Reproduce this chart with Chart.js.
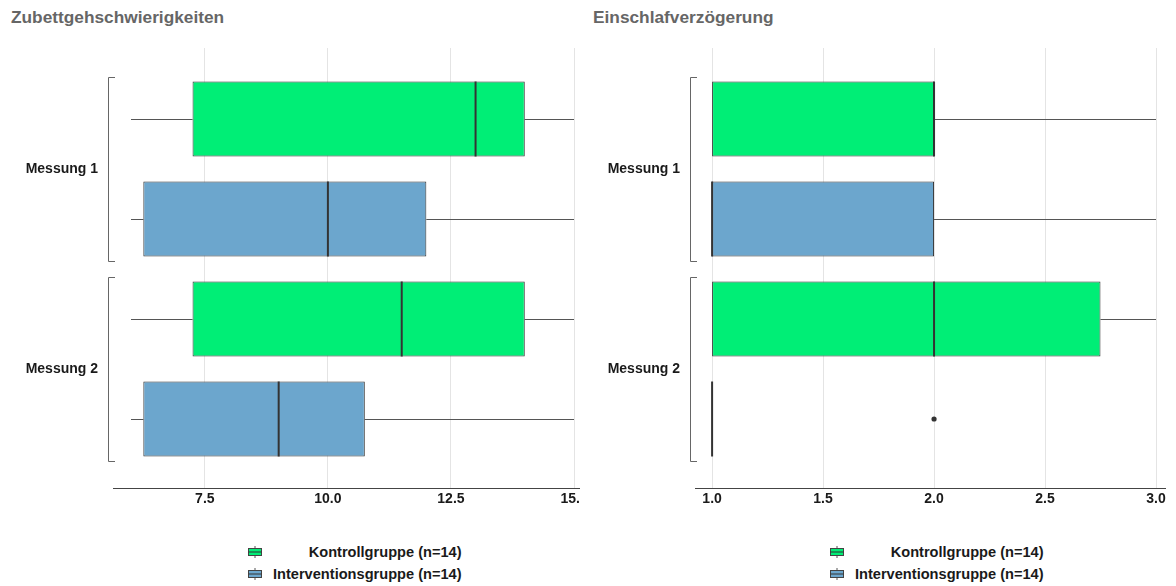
<!DOCTYPE html>
<html>
<head>
<meta charset="utf-8">
<script src="https://cdn.jsdelivr.net/npm/chart.js@4.4.1/dist/chart.umd.min.js"></script>
<style>
html,body{margin:0;padding:0;background:#fff;}
body{width:1176px;height:586px;position:relative;overflow:hidden;font-family:"Liberation Sans",Arial,Helvetica,sans-serif;}
.title{position:absolute;top:7px;font-weight:bold;font-size:17.3px;line-height:20px;color:#666;white-space:nowrap;}
canvas{position:absolute;top:0;}
.legend{position:absolute;top:544px;display:grid;grid-template-columns:14px auto;column-gap:11px;row-gap:6px;align-items:center;font-weight:bold;font-size:14.6px;line-height:16px;color:#1a1a1a;}
.legend span{text-align:right;white-space:nowrap;}
.legend svg{display:block;}
</style>
</head>
<body>
<div class="title" style="left:11px">Zubettgehschwierigkeiten</div>
<div class="title" style="left:593px">Einschlafverzögerung</div>
<canvas id="c1" width="580" height="525" style="left:0"></canvas>
<canvas id="c2" width="586" height="525" style="left:590px"></canvas>
<div class="legend" id="lg1" style="left:248px"></div>
<div class="legend" id="lg2" style="left:830px"></div>
<script>
// ---- data ----
const categories = ['Messung 1', 'Messung 2'];
const groupLabels = ['Kontrollgruppe (n=14)', 'Interventionsgruppe (n=14)'];
const groupColors = ['#00EE76', '#6CA6CD'];

// five-number summaries per Messung: [min, q1, median, q3, max]
const zubKontroll = [[6, 7.25, 13, 14, 15], [6, 7.25, 11.5, 14, 15]];
const zubIntervention = [[6, 6.25, 10, 12, 15], [6, 6.25, 9, 10.75, 15]];
const zubKontrollOutliers = [[], []];
const zubInterventionOutliers = [[], []];
const zubTicks = [7.5, 10, 12.5, 15];
const zubTickLabels = ['7.5', '10.0', '12.5', '15.0'];

const einKontroll = [[1, 1, 2, 2, 3], [1, 1, 2, 2.75, 3]];
const einIntervention = [[1, 1, 1, 2, 3], [1, 1, 1, 1, 1]];
const einKontrollOutliers = [[], []];
const einInterventionOutliers = [[], [2]];
const einTicks = [1, 1.5, 2, 2.5, 3];
const einTickLabels = ['1.0', '1.5', '2.0', '2.5', '3.0'];

// ---- box plot drawing helpers (positions through the chart scales) ----
const boxPlugin = {
  id: 'boxparts',
  beforeDatasetsDraw(chart) {
    const {ctx, chartArea: a, scales: {x}} = chart;
    ctx.save();
    ctx.beginPath(); ctx.rect(a.left, a.top, a.width, a.height); ctx.clip();
    chart.data.datasets.forEach((ds, di) => {
      chart.getDatasetMeta(di).data.forEach((bar, i) => {
        const s = ds.stats[i];
        const y = Math.round(bar.y) + 0.5;
        ctx.strokeStyle = '#555'; ctx.lineWidth = 1;
        ctx.beginPath();
        ctx.moveTo(x.getPixelForValue(s[0]), y); ctx.lineTo(x.getPixelForValue(s[1]), y);
        ctx.moveTo(x.getPixelForValue(s[3]), y); ctx.lineTo(x.getPixelForValue(s[4]), y);
        ctx.stroke();
      });
    });
    ctx.restore();
  },
  afterDatasetsDraw(chart) {
    const {ctx, chartArea: a, scales: {x}} = chart;
    ctx.save();
    ctx.beginPath(); ctx.rect(a.left - 2, a.top, a.width + 4, a.height); ctx.clip();
    chart.data.datasets.forEach((ds, di) => {
      chart.getDatasetMeta(di).data.forEach((bar, i) => {
        const s = ds.stats[i];
        const h = bar.height;
        const mx = x.getPixelForValue(s[2]);
        ctx.strokeStyle = '#333'; ctx.lineWidth = 2;
        ctx.beginPath();
        ctx.moveTo(mx, bar.y - h / 2); ctx.lineTo(mx, bar.y + h / 2);
        ctx.stroke();
        (ds.outliers[i] || []).forEach(v => {
          ctx.fillStyle = '#333';
          ctx.beginPath();
          ctx.arc(x.getPixelForValue(v), bar.y, 2.6, 0, Math.PI * 2);
          ctx.fill();
        });
      });
    });
    ctx.restore();
  },
  afterDraw(chart) {
    const {ctx, chartArea: a, scales: {y}} = chart;
    ctx.save();
    // brackets per category
    ctx.strokeStyle = '#666'; ctx.lineWidth = 1;
    categories.forEach((c, i) => {
      const t = Math.round(y.getPixelForValue(i - 0.46)) + 0.5;
      const b = Math.round(y.getPixelForValue(i + 0.46)) + 0.5;
      const bx = a.left - 5 + 0.5;
      ctx.beginPath();
      ctx.moveTo(a.left + 2, t); ctx.lineTo(bx, t); ctx.lineTo(bx, b); ctx.lineTo(a.left + 2, b);
      ctx.stroke();
    });
    // x axis line
    ctx.strokeStyle = '#444'; ctx.lineWidth = 1;
    ctx.beginPath();
    ctx.moveTo(a.left, Math.round(a.bottom) + 0.5);
    ctx.lineTo(a.right + 10, Math.round(a.bottom) + 0.5);
    ctx.stroke();
    ctx.restore();
  }
};

const FONT = "'Liberation Sans', Arial, Helvetica, sans-serif";

function makeChart(id, kontroll, intervention, kOut, iOut, xMin, xMax, ticks, tickLabels, yWidth, padRight) {
  const series = [[kontroll, kOut], [intervention, iOut]];
  return new Chart(document.getElementById(id), {
    type: 'bar',
    data: {
      datasets: series.map(([stats, outs], gi) => ({
        label: groupLabels[gi],
        data: stats.map((s, i) => ({y: i, x: [s[1], s[3]]})),
        stats: stats,
        outliers: outs,
        backgroundColor: groupColors[gi],
        borderColor: '#333',
        borderWidth: 1,
        borderSkipped: false,
        categoryPercentage: 1.0,
        barPercentage: 0.75
      }))
    },
    options: {
      indexAxis: 'y',
      responsive: false,
      animation: false,
      devicePixelRatio: 1,
      layout: {padding: {top: 48, right: padRight, left: 0, bottom: 0}},
      plugins: {legend: {display: false}, tooltip: {enabled: false}},
      scales: {
        y: {
          type: 'linear',
          reverse: true,
          offset: false,
          min: -0.605,
          max: 1.595,
          afterBuildTicks: s => { s.ticks = categories.map((c, i) => ({value: i})); },
          afterFit: s => { s.width = yWidth; },
          grid: {display: false, drawTicks: false},
          border: {display: false},
          ticks: {
            autoSkip: false,
            padding: 15,
            color: '#1a1a1a',
            font: {family: FONT, size: 14, weight: 'bold'},
            callback: (v) => categories[v]
          }
        },
        x: {
          type: 'linear',
          min: xMin,
          max: xMax,
          afterBuildTicks: s => { s.ticks = ticks.map(v => ({value: v})); },
          afterFit: s => { s.height = 37; s.paddingRight = 0; s.paddingLeft = 0; },
          grid: {color: '#e4e4e4', lineWidth: 1, drawTicks: false},
          border: {display: false},
          ticks: {
            autoSkip: false,
            maxRotation: 0,
            padding: 3,
            color: '#1a1a1a',
            font: {family: FONT, size: 14, weight: 'bold'},
            callback: (v, i) => tickLabels[i]
          }
        }
      }
    },
    plugins: [boxPlugin]
  });
}

makeChart('c1', zubKontroll, zubIntervention, zubKontrollOutliers, zubInterventionOutliers, 5.634, 15, zubTicks, zubTickLabels, 113, 6);
makeChart('c2', einKontroll, einIntervention, einKontrollOutliers, einInterventionOutliers, 0.923, 3, einTicks, einTickLabels, 105, 20);

// ---- HTML legends ----
function icon(color) {
  return '<svg width="14" height="14" viewBox="0 0 14 14"><line x1="7" y1="1" x2="7" y2="13" stroke="#555" stroke-width="1"/>' +
    '<rect x="0.5" y="3.5" width="13" height="7" fill="' + color + '" stroke="#444" stroke-width="1"/>' +
    '<line x1="0.5" y1="7" x2="13.5" y2="7" stroke="#333" stroke-width="1"/></svg>';
}
['lg1', 'lg2'].forEach(id => {
  document.getElementById(id).innerHTML = groupLabels.map((l, i) => icon(groupColors[i]) + '<span>' + l + '</span>').join('');
});
</script>
</body>
</html>
